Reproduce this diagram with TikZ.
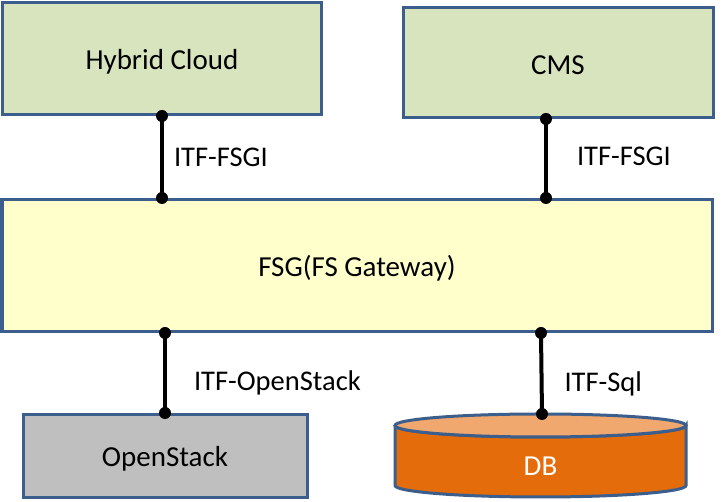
\documentclass[tikz,border=0pt]{standalone}
\usepackage{fontspec}
\setmainfont{Carlito}
\definecolor{rim}{HTML}{3B5E8C}
\definecolor{cloudgreen}{HTML}{D7E4BD}
\definecolor{gwyellow}{HTML}{FFFFCC}
\definecolor{stackgray}{HTML}{BFBFBF}
\definecolor{dbbody}{HTML}{E46C0A}
\definecolor{dbtop}{HTML}{F0A86E}
\tikzset{
  box/.style    = {shape=rectangle, draw=rim, line width=3pt, inner sep=0pt},
  upper/.style  = {box, fill=cloudgreen},
  gateway/.style= {box, fill=gwyellow},
  stack/.style  = {box, fill=stackgray},
  boxtext/.style= {font=\fontsize{29}{35}\selectfont, yshift=-3pt},
  link/.style   = {line width=4pt},
  joint/.style  = {circle, fill=black, inner sep=0pt, minimum size=12pt},
  itf/.style    = {anchor=west, inner sep=0pt, font=\fontsize{28.5}{34}\selectfont}
}
\begin{document}
\begin{tikzpicture}[x=1pt, y=1pt]
  \useasboundingbox (0,0) rectangle (724,502);

  \node [upper, minimum width=319pt, minimum height=112pt] (hybrid) at (162,443.5) {};
  \node [upper, minimum width=310pt, minimum height=110pt] (cms) at (558,439.5) {};
  \node [gateway, minimum width=710pt, minimum height=132pt] (fsg) at (357,236.5) {};
  \node [stack, minimum width=284pt, minimum height=83pt] (openstack) at (165,46) {};
  % box texts, a little below centre
  \node [boxtext] (hybridtext) at (hybrid) {Hybrid Cloud};
  \node [boxtext] (cmstext) at (cms) {CMS};
  \node [boxtext] (fsgtext) at (fsg) {FSG(FS Gateway)};
  \node [boxtext] (openstacktext) at (openstack) {OpenStack};

  % database cylinder
  \draw [rim, line width=3pt, fill=dbbody]
    (395,76.5) -- (395,16.5) arc [start angle=180, end angle=360, x radius=145.5, y radius=11.5]
    -- (686,76.5) arc [start angle=0, end angle=-180, x radius=145.5, y radius=11.5];
  \draw [rim, line width=3pt, fill=dbtop] (540.5,76.5) ellipse [x radius=145.5, y radius=11.5];
  \node [boxtext, text=white] (db) at (540.5,39) {DB};
  \coordinate (dbin) at (542,88);

  % interfaces
  \draw [link] (hybrid.south) node[joint] {} -- (hybrid.south |- fsg.north) node[joint] {}
    node [itf, midway, xshift=10pt] (itf1) {ITF-FSGI};
  \draw [link] ([xshift=-12pt]cms.south) node[joint] {} -- ([xshift=-12pt]cms.south |- fsg.north) node[joint] {}
    node [itf, midway, xshift=29pt, yshift=2pt] (itf2) {ITF-FSGI};
  \draw [link] (openstack.north |- fsg.south) node[joint] {} -- (openstack.north) node[joint] {}
    node [itf, midway, xshift=27pt, yshift=-10pt] (itf3) {ITF-OpenStack};
  \draw [link] (dbin |- fsg.south) ++(-1,0) node[joint] {} -- (dbin) node[joint] {}
    node [itf, midway, xshift=21pt, yshift=-10pt] (itf4) {ITF-Sql};
\end{tikzpicture}
\end{document}
